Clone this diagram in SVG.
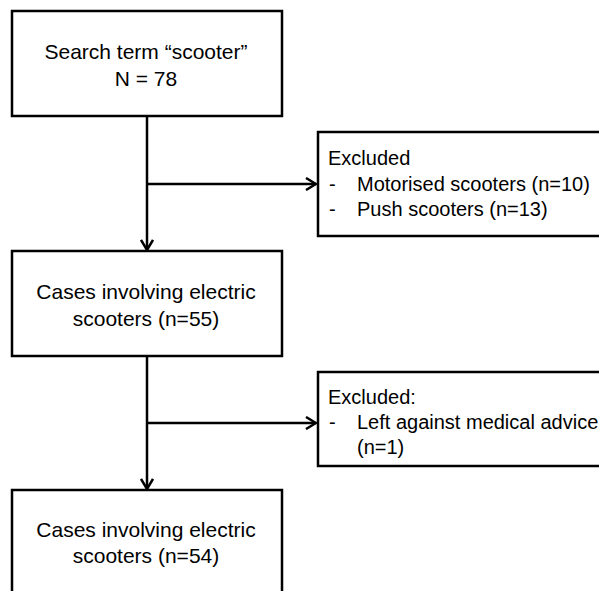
<svg xmlns="http://www.w3.org/2000/svg" width="599" height="591" viewBox="0 0 599 591">
<style>
.box{fill:#fff;stroke:#000;stroke-width:2.5}
.t{font-family:"Liberation Sans",Arial,sans-serif;font-size:21px;fill:#000}
.c{text-anchor:middle}
.e{font-family:"Liberation Sans",Arial,sans-serif;font-size:20px;fill:#000}
.ln{fill:none;stroke:#000;stroke-width:2.5}
</style>
<defs>
<marker id="ah" viewBox="0 0 12 14" refX="11" refY="7" markerWidth="12" markerHeight="14" markerUnits="userSpaceOnUse" orient="auto">
<path d="M1,1 L11,7 L1,13" fill="none" stroke="#000" stroke-width="2.5"/>
</marker>
</defs>
<rect width="599" height="591" fill="#fff"/>
<g id="connectors">
<line class="ln" x1="147" y1="116" x2="147" y2="250" marker-end="url(#ah)"/>
<line class="ln" x1="147" y1="184" x2="316" y2="184" marker-end="url(#ah)"/>
<line class="ln" x1="147" y1="356" x2="147" y2="489" marker-end="url(#ah)"/>
<line class="ln" x1="147" y1="423" x2="316" y2="423" marker-end="url(#ah)"/>
</g>
<g id="search">
<rect class="box" x="12" y="11" width="270" height="105"/>
<text class="t c" x="146" y="59">Search term “scooter”</text>
<text class="t c" x="146" y="86">N = 78</text>
</g>
<g id="excluded1">
<rect class="box" x="318" y="132" width="290" height="104"/>
<text class="e" x="328" y="165">Excluded</text>
<text class="e" x="329" y="191">-</text>
<text class="e" x="357" y="191">Motorised scooters (n=10)</text>
<text class="e" x="329" y="216">-</text>
<text class="e" x="357" y="216">Push scooters (n=13)</text>
</g>
<g id="cases55">
<rect class="box" x="12" y="251" width="270" height="105"/>
<text class="t c" x="146" y="299">Cases involving electric</text>
<text class="t c" x="146" y="326">scooters (n=55)</text>
</g>
<g id="excluded2">
<rect class="box" x="318" y="372" width="290" height="94"/>
<text class="e" x="328" y="404">Excluded:</text>
<text class="e" x="329" y="429">-</text>
<text class="e" x="357" y="429">Left against medical advice</text>
<text class="e" x="357" y="454">(n=1)</text>
</g>
<g id="cases54">
<rect class="box" x="12" y="490" width="270" height="120"/>
<text class="t c" x="146" y="537">Cases involving electric</text>
<text class="t c" x="146" y="563">scooters (n=54)</text>
</g>
</svg>
